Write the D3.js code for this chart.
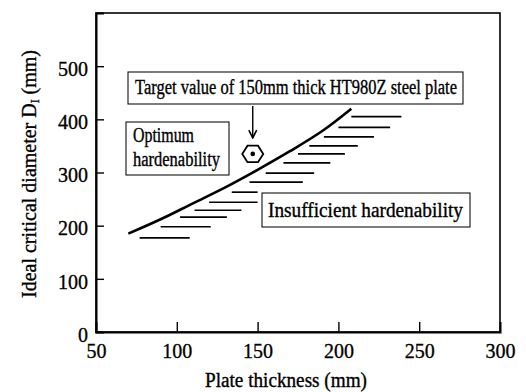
<!DOCTYPE html>
<html>
<head>
<meta charset="utf-8">
<script src="https://cdn.jsdelivr.net/npm/d3@7"></script>
<style>
  html, body { margin: 0; padding: 0; background: #fff; }
  svg text { font-family: "Liberation Serif", "DejaVu Serif", "Times New Roman", serif !important; fill: #000; stroke: #000; stroke-width: 0.35px; }
</style>
</head>
<body>
<div id="chart"></div>
<script>
// ---------- data ----------
const xTicks = [50, 100, 150, 200, 250, 300];
const yTicks = [0, 100, 200, 300, 400, 500];

// boundary curve between optimum / insufficient hardenability
const boundaryX = [70, 90, 110, 130, 150, 170, 190, 208];
const boundaryY = [185, 212, 242, 272, 305, 340, 378, 420];

// hatch marks under the curve (insufficient side)
const hatchY  = [177, 198, 216, 229, 244, 263, 282, 299, 318, 335, 350, 367, 385, 405];
const hatchX0 = [77, 90, 102, 111, 120, 134, 145, 155, 166, 175, 182, 191, 200, 208];
const hatchX1 = [108, 121, 131, 140, 150, 150, 178, 185, 195, 204, 212, 222, 232, 239];

// target value marker (plate thickness, DI)
const targetX = 147;
const targetY = 335;

const xTitle = 'Plate thickness (mm)';
const targetText = ['Target value of 150mm thick HT980Z steel plate'];
const optimumText = ['Optimum', 'hardenability'];
const insufficientText = ['Insufficient hardenability'];

// ---------- layout ----------
const W = 526, H = 392;
const margin = { top: 13, right: 26, bottom: 60, left: 96 };

const svg = d3.select('#chart').append('svg')
  .attr('width', W)
  .attr('height', H);

const x = d3.scaleLinear().domain([50, 300]).range([margin.left, W - margin.right]);
const y = d3.scaleLinear().domain([0, 600]).range([H - margin.bottom, margin.top]);

// squeeze text to a measured width (the original face is narrow)
function fit(sel, width) {
  sel.attr('textLength', width).attr('lengthAdjust', 'spacingAndGlyphs');
}

// frame
svg.append('rect')
  .attr('x', x(50)).attr('y', y(600))
  .attr('width', x(300) - x(50)).attr('height', y(0) - y(600))
  .attr('fill', 'none').attr('stroke', '#000').attr('stroke-width', 1.6);

// ---------- axes ----------
const xAxis = svg.append('g')
  .attr('transform', `translate(0,${y(0)})`)
  .call(d3.axisBottom(x).tickValues(xTicks).tickSize(-10).tickPadding(10).tickFormat(d3.format('d')));
xAxis.select('.domain').attr('stroke-width', 2);
xAxis.selectAll('.tick line').attr('stroke-width', 1.4)
  .filter(d => d === 50 || d === 300).remove();
xAxis.selectAll('.tick text')
  .attr('font-size', 22)
  .each(function (d) { fit(d3.select(this), String(d).length * 10); });

const yAxis = svg.append('g')
  .attr('transform', `translate(${x(50)},0)`)
  .call(d3.axisLeft(y).tickValues(yTicks).tickSize(-8).tickPadding(8).tickFormat(d3.format('d')));
yAxis.select('.domain').attr('stroke-width', 2);
yAxis.selectAll('.tick line').attr('stroke-width', 1.4)
  .filter(d => d === 0).remove();
yAxis.selectAll('.tick text')
  .attr('font-size', 22)
  .attr('dy', '0.42em')
  .each(function (d) { fit(d3.select(this), String(d).length * 10); });

// axis titles
const xt = svg.append('text')
  .attr('x', 286).attr('y', 387)
  .attr('text-anchor', 'middle').attr('font-size', 20)
  .text(xTitle);
fit(xt, 162);

const yt = svg.append('text')
  .attr('transform', 'translate(36,174) rotate(-90)')
  .attr('text-anchor', 'middle').attr('font-size', 20);
yt.append('tspan').text('Ideal critical diameter D');
yt.append('tspan').attr('font-size', 12).attr('dy', 3).text('I');
yt.append('tspan').attr('dy', -3).text(' (mm)');
fit(yt, 248);

// ---------- boundary curve + hatching ----------
const line = d3.line()
  .x(d => x(d[0])).y(d => y(d[1]))
  .curve(d3.curveCatmullRom);

svg.append('path')
  .datum(d3.zip(boundaryX, boundaryY))
  .attr('d', line)
  .attr('fill', 'none').attr('stroke', '#000').attr('stroke-width', 2.6);

svg.append('g').selectAll('line')
  .data(d3.range(hatchY.length))
  .join('line')
  .attr('x1', i => x(hatchX0[i])).attr('x2', i => x(hatchX1[i]))
  .attr('y1', i => y(hatchY[i])).attr('y2', i => y(hatchY[i]))
  .attr('stroke', '#000').attr('stroke-width', 1.7);

// ---------- target marker ----------
const hx = x(targetX), hy = y(targetY);
const hex = d3.range(6).map(k => {
  const a = Math.PI / 3 * k;
  return [hx + 10.5 * Math.cos(a), hy + 9.5 * Math.sin(a)];
});
svg.append('polygon')
  .attr('points', hex.map(p => p.join(',')).join(' '))
  .attr('fill', '#fff').attr('stroke', '#000').attr('stroke-width', 1.8);
svg.append('circle')
  .attr('cx', hx).attr('cy', hy).attr('r', 2.3).attr('fill', '#000');

// arrow from the target box down to the marker
svg.append('defs').append('marker')
  .attr('id', 'head').attr('viewBox', '0 0 10 10')
  .attr('refX', 9).attr('refY', 5)
  .attr('markerWidth', 7).attr('markerHeight', 7)
  .attr('orient', 'auto')
  .append('path').attr('d', 'M1,1 L9,5 L1,9').attr('fill', 'none')
  .attr('stroke', '#000').attr('stroke-width', 1.6);
svg.append('line')
  .attr('x1', hx).attr('x2', hx)
  .attr('y1', 106).attr('y2', hy - 16)
  .attr('stroke', '#000').attr('stroke-width', 1.4)
  .attr('marker-end', 'url(#head)');

// ---------- boxed labels ----------
function box(lines, b) {
  svg.append('rect')
    .attr('x', b.x).attr('y', b.y).attr('width', b.w).attr('height', b.h)
    .attr('fill', '#fff').attr('stroke', '#111').attr('stroke-width', 1.1);
  lines.forEach((s, i) => {
    const t = svg.append('text')
      .attr('x', b.tx).attr('y', b.base[i])
      .attr('font-size', 20).text(s);
    fit(t, b.tw[i]);
  });
}

box(targetText, { x: 128, y: 72, w: 335, h: 32, tx: 135, base: [94], tw: [322] });
box(optimumText, { x: 126, y: 122, w: 103, h: 53, tx: 133, base: [142, 166], tw: [61, 87] });
box(insufficientText, { x: 262, y: 193, w: 208, h: 34, tx: 268, base: [217], tw: [195] });
</script>
</body>
</html>
